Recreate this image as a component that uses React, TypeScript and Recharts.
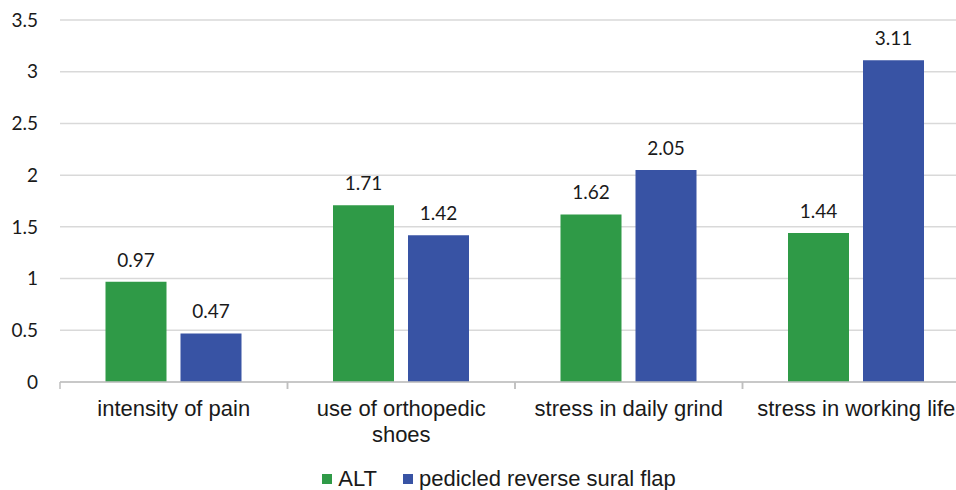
import React from 'react';
import {
  BarChart,
  Bar,
  XAxis,
  YAxis,
  CartesianGrid,
  LabelList,
  Legend,
} from 'recharts';

const categories = [
  'intensity of pain',
  'use of orthopedic shoes',
  'stress in daily grind',
  'stress in working life',
];
// how each category label breaks onto lines under the axis
const categoryLines = [
  ['intensity of pain'],
  ['use of orthopedic', 'shoes'],
  ['stress in daily grind'],
  ['stress in working life'],
];
const altValues = [0.97, 1.71, 1.62, 1.44];
const suralValues = [0.47, 1.42, 2.05, 3.11];
const yTicks = [0, 0.5, 1, 1.5, 2, 2.5, 3, 3.5];

const seriesNames = ['ALT', 'pedicled reverse sural flap'];
const GREEN = '#2f9a47';
const BLUE = '#3853a4';

const data = categories.map((name, i) => ({
  name,
  alt: altValues[i],
  sural: suralValues[i],
}));

const labelFont = '"Liberation Sans", Arial, sans-serif';
const numFont = 'Lato, "Open Sans", sans-serif';

// category tick: label below, tick marks sit on the band edges
const CategoryTick = (props: any) => {
  const { x, y, payload, width, index } = props;
  const half = width / categories.length / 2;
  const lines = categoryLines[index] || [payload.value];
  return (
    <g>
      <line x1={x - half} x2={x - half} y1={y} y2={y + 7} stroke="#bfbfbf" strokeWidth={1.5} />
      <line x1={x + half} x2={x + half} y1={y} y2={y + 7} stroke="#bfbfbf" strokeWidth={1.5} />
      <text
        x={x}
        y={y + 34}
        textAnchor="middle"
        fill="#1a1a1a"
        style={{ fontSize: 22, fontFamily: labelFont }}
      >
        {lines.map((l: string, i: number) => (
          <tspan key={i} x={x} dy={i === 0 ? 0 : 26}>
            {l}
          </tspan>
        ))}
      </text>
    </g>
  );
};

const LegendContent = () => (
  <div
    style={{
      display: 'flex',
      justifyContent: 'center',
      alignItems: 'center',
      height: 22,
      paddingLeft: 28,
      fontFamily: labelFont,
      fontSize: 22,
      color: '#1a1a1a',
    }}
  >
    {seriesNames.map((n, i) => (
      <div key={n} style={{ display: 'flex', alignItems: 'center', marginRight: i === 0 ? 26 : 0 }}>
        <span style={{ width: 10, height: 10, background: i === 0 ? GREEN : BLUE, marginRight: 6 }} />
        <span>{n}</span>
      </div>
    ))}
  </div>
);

export default function App() {
  return (
    <div
      style={{
        position: 'absolute',
        left: 0,
        top: 0,
        width: 956,
        height: 490,
        overflow: 'hidden',
        background: '#fff',
      }}
    >
      <BarChart
        width={990}
        height={490}
        data={data}
        margin={{ top: 20, right: 20, left: 0, bottom: 0 }}
        barCategoryGap="20%"
        barGap={14}
      >
        <CartesianGrid vertical={false} stroke="#d9d9d9" strokeWidth={1.5} />
        <XAxis
          dataKey="name"
          height={86}
          interval={0}
          tickSize={0}
          tickMargin={0}
          stroke="#bfbfbf"
          strokeWidth={1.5}
          tick={<CategoryTick />}
        />
        <YAxis
          domain={[0, 3.5]}
          ticks={yTicks}
          width={60}
          axisLine={false}
          tickLine={false}
          tickMargin={16}
          tick={{ fill: '#1a1a1a', fontSize: 19, fontFamily: numFont }}
        />
        <Legend verticalAlign="bottom" content={<LegendContent />} />
        <Bar dataKey="alt" name={seriesNames[0]} fill={GREEN} isAnimationActive={false}>
          <LabelList dataKey="alt" position="top" offset={15} fill="#1a1a1a" style={{ fontSize: 19, fontFamily: numFont }} />
        </Bar>
        <Bar dataKey="sural" name={seriesNames[1]} fill={BLUE} isAnimationActive={false}>
          <LabelList dataKey="sural" position="top" offset={15} fill="#1a1a1a" style={{ fontSize: 19, fontFamily: numFont }} />
        </Bar>
      </BarChart>
    </div>
  );
}
